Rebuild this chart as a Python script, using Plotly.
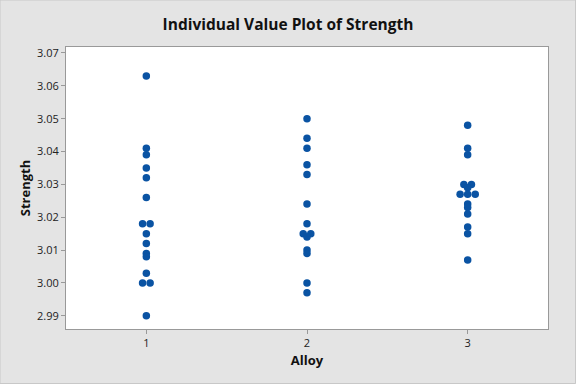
import plotly.graph_objects as go
from collections import Counter

alloys = [1, 2, 3]
strength_1 = [3.063, 3.041, 3.039, 3.035, 3.032, 3.026, 3.018, 3.018, 3.015, 3.012,
              3.009, 3.008, 3.003, 3.000, 3.000, 2.990]
strength_2 = [3.050, 3.044, 3.041, 3.036, 3.033, 3.024, 3.018, 3.015, 3.015, 3.014,
              3.010, 3.009, 3.000, 2.997]
strength_3 = [3.048, 3.041, 3.039, 3.030, 3.030, 3.029, 3.027, 3.027, 3.027, 3.024,
              3.023, 3.021, 3.017, 3.015, 3.007]
y_ticks = [2.99, 3.00, 3.01, 3.02, 3.03, 3.04, 3.05, 3.06, 3.07]

groups = [strength_1, strength_2, strength_3]
step = 0.047  # dodge for tied values

xs, ys = [], []
for a, vals in zip(alloys, groups):
    counts = Counter(vals)
    seen = Counter()
    for v in vals:
        n = counts[v]
        i = seen[v]
        seen[v] += 1
        xs.append(a + (i - (n - 1) / 2) * step)
        ys.append(v)

fig = go.Figure(go.Scatter(
    x=xs, y=ys, mode="markers",
    marker=dict(color="#0A53A3", size=7.5, line=dict(width=0)),
    showlegend=False,
))

fam = "Open Sans, Noto Sans, sans-serif"
axis_font = dict(family=fam, size=11, color="#222222")
fig.update_layout(
    width=576, height=384,
    margin=dict(l=66, r=28, t=47, b=55),
    paper_bgcolor="#E4E4E4",
    plot_bgcolor="white",
    title=dict(text="<b>Individual Value Plot of Strength</b>", x=0.5, xanchor="center",
               y=1 - 25 / 384, yanchor="middle",
               font=dict(family=fam, size=15.5, color="#111111")),
    xaxis=dict(range=[0.5, 3.5], tickvals=alloys, ticktext=[str(a) for a in alloys],
               ticks="outside", ticklen=4, tickcolor="#999999", automargin=False,
               showgrid=False, zeroline=False, showline=True, linecolor="#999999",
               mirror=True, tickfont=axis_font,
               title=dict(text="<b>Alloy</b>", standoff=6,
                          font=dict(family=fam, size=13, color="#111111"))),
    yaxis=dict(range=[2.986, 3.0718], tickvals=y_ticks, tickformat=".2f",
               ticks="outside", ticklen=4, tickcolor="#999999", automargin=False,
               showgrid=False, zeroline=False, showline=True, linecolor="#999999",
               mirror=True, tickfont=axis_font,
               title=dict(text="<b>Strength</b>", standoff=3,
                          font=dict(family=fam, size=13, color="#111111"))),
    shapes=[dict(type="rect", xref="paper", yref="paper",
                 x0=-66 / 482, x1=(575.5 - 66) / 482,
                 y0=-(383.5 - 329) / 282, y1=1 + 47 / 282,
                 line=dict(color="#C8C8C8", width=1), layer="below")],
)

fig.write_html("out.html", config={"displayModeBar": False},
               post_script="document.body.style.margin='0';")
